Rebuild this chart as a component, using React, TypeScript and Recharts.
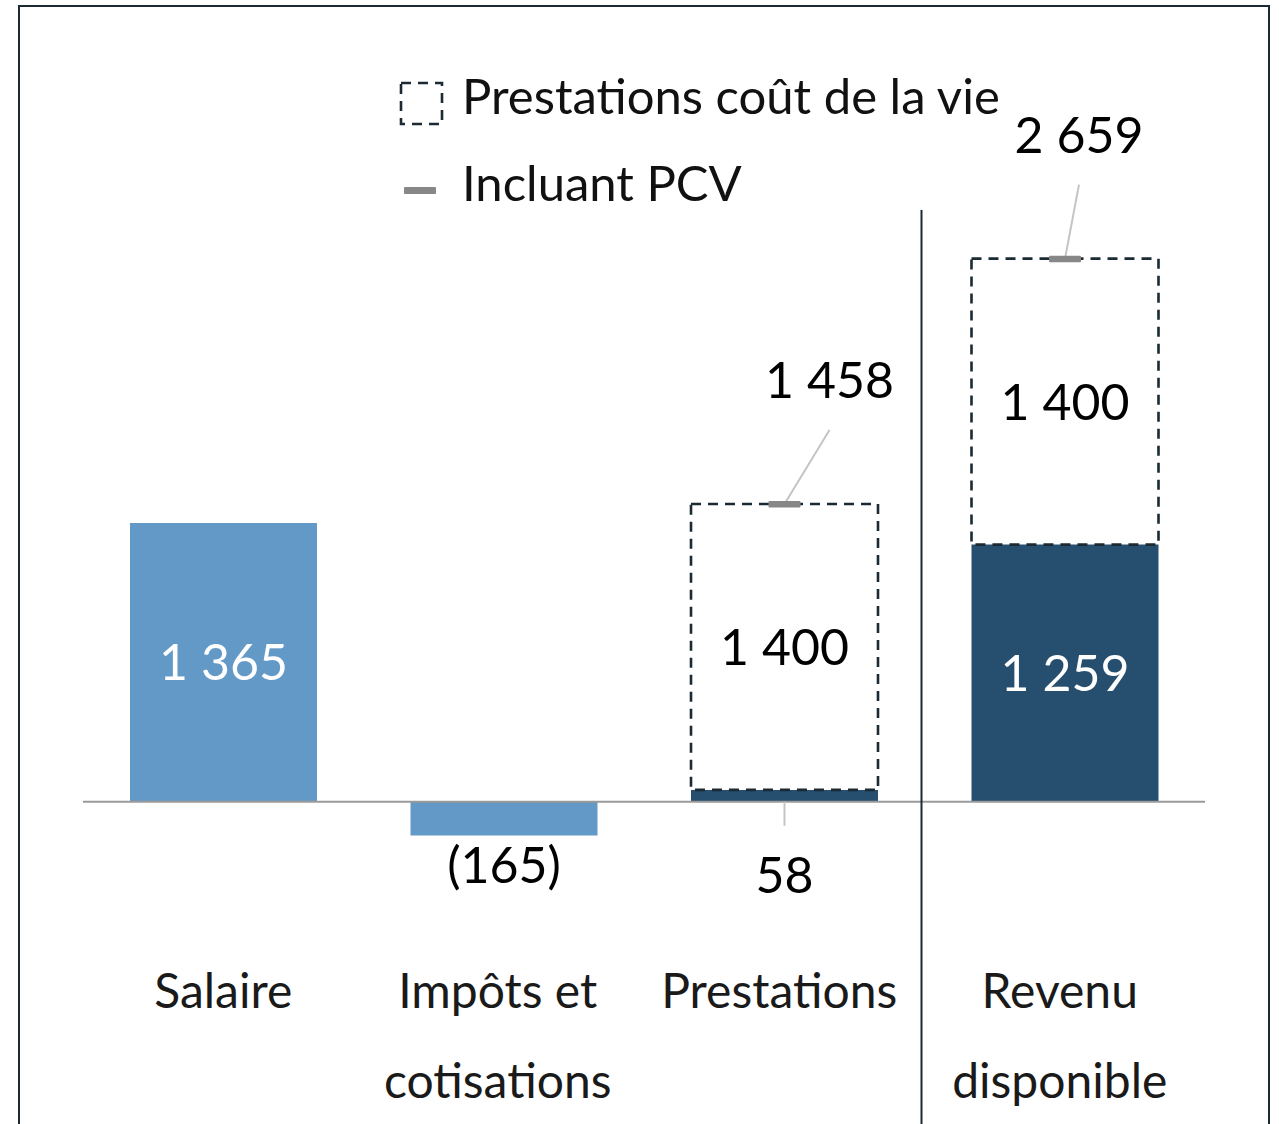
import React from 'react';
import { BarChart, Bar, XAxis, YAxis, Cell, LabelList, ReferenceLine, Legend } from 'recharts';

// values
const categories = ['Salaire', 'Impôts et cotisations', 'Prestations', 'Revenu disponible'];
const categoryLines = [['Salaire'], ['Impôts et', 'cotisations'], ['Prestations'], ['Revenu', 'disponible']];
const baseValues = [1365, -165, 58, 1259];
const pcvValues = [0, 0, 1400, 1400];
const baseColors = ['#6399c7', '#6399c7', '#264e6e', '#264e6e'];

const data = categories.map((name, i) => ({
  name,
  base: baseValues[i],
  pcv: pcvValues[i],
  total: baseValues[i] + pcvValues[i],
}));

const W = 1279;
const H = 1124;
const margin = { top: 189, right: 74, bottom: 8, left: 83 };
const band = (W - margin.left - margin.right) / categories.length;
const FONT = 'Lato, "Noto Sans", sans-serif';
const DARK = '#1b2a33';
const DASH = '10 7';

const fmt = (v: number) => {
  const s = Math.abs(v).toString().replace(/\B(?=(\d{3})+(?!\d))/g, ' ');
  return v < 0 ? `(${s})` : s;
};

// where the total label sits relative to the marker
const totalShift: Record<number, number> = { 2: 45, 3: 14 };
// small horizontal nudge of the category labels
const tickShift = [0, -6, -5, -5];

const BaseLabel = (props: any) => {
  const { x, y, width, height, value, index } = props;
  const cx = x + width / 2;
  const top = Math.min(y, y + height);
  const bottom = Math.max(y, y + height);
  if (index === 1) {
    return (
      <text x={cx} y={bottom + 48} textAnchor="middle" fontSize={50} fontFamily={FONT} fill="#000">
        {fmt(value)}
      </text>
    );
  }
  if (index === 2) {
    return (
      <g>
        <line x1={cx} y1={bottom} x2={cx} y2={bottom + 24} stroke="#c4c4c4" strokeWidth={2} />
        <text x={cx} y={bottom + 91} textAnchor="middle" fontSize={50} fontFamily={FONT} fill="#000">
          {fmt(value)}
        </text>
      </g>
    );
  }
  return (
    <text x={cx} y={(top + bottom) / 2 + 18} textAnchor="middle" fontSize={50} fontFamily={FONT} fill="#fff">
      {fmt(value)}
    </text>
  );
};

const PcvShape = (props: any) => {
  const { x, y, width, height, payload, index } = props;
  if (!payload || !payload.pcv) return null;
  const cx = x + width / 2;
  const dx = totalShift[index] ?? 20;
  return (
    <g>
      <rect x={x} y={y} width={width} height={height} fill="none" stroke={DARK} strokeWidth={2.6} strokeDasharray={DASH} />
      <line x1={cx} y1={y} x2={cx + dx} y2={y - 74} stroke="#c4c4c4" strokeWidth={2} />
      <rect x={cx - 16} y={y - 3} width={32} height={6.5} rx={1} fill="#878787" />
      <text x={cx} y={y + height / 2 + 18} textAnchor="middle" fontSize={50} fontFamily={FONT} fill="#000">
        {fmt(payload.pcv)}
      </text>
      <text x={cx + dx} y={y - 106} textAnchor="middle" fontSize={50} fontFamily={FONT} fill="#000">
        {fmt(payload.total)}
      </text>
    </g>
  );
};

const CategoryTick = (props: any) => {
  const { x, y, index } = props;
  const lines = categoryLines[index] || [];
  const tx = x + (tickShift[index] ?? 0);
  return (
    <g>
      {index === 3 && <line x1={x - band / 2 - 3} y1={210} x2={x - band / 2 - 3} y2={H} stroke={DARK} strokeWidth={2} />}
      {lines.map((l, i) => (
        <text key={i} x={tx} y={y - 6 + i * 90} textAnchor="middle" fontSize={48} fontFamily={FONT} fill="#1a1a1a">
          {l}
        </text>
      ))}
    </g>
  );
};

const LegendContent = () => (
  <div style={{ fontFamily: FONT, fontSize: 49, color: '#111' }}>
    <div style={{ position: 'relative', height: 88 }}>
      <svg width={48} height={48} style={{ position: 'absolute', left: 0, top: 31 }}>
        <rect x={2} y={2} width={41} height={41} fill="none" stroke={DARK} strokeWidth={2.6} strokeDasharray={DASH} />
      </svg>
      <span style={{ position: 'absolute', left: 63, top: 15, lineHeight: '60px', whiteSpace: 'nowrap' }}>
        Prestations coût de la vie
      </span>
    </div>
    <div style={{ position: 'relative', height: 88 }}>
      <svg width={48} height={48} style={{ position: 'absolute', left: 0, top: 37 }}>
        <rect x={5} y={12} width={32} height={7} rx={1} fill="#878787" />
      </svg>
      <span style={{ position: 'absolute', left: 63, top: 14, lineHeight: '60px', whiteSpace: 'nowrap' }}>
        Incluant PCV
      </span>
    </div>
  </div>
);

export default function App() {
  return (
    <div style={{ position: 'absolute', left: 0, top: 0, width: W, height: H, overflow: 'hidden', background: '#fff' }}>
      <div
        style={{
          position: 'absolute',
          left: 18,
          top: 5,
          width: 1252,
          height: 1140,
          border: `2.5px solid ${DARK}`,
          boxSizing: 'border-box',
        }}
      />
      <div style={{ position: 'absolute', left: 0, top: 0 }}>
        <BarChart width={W} height={H} data={data} margin={margin} barSize={187}>
          <XAxis dataKey="name" axisLine={false} tickLine={false} height={110} tick={<CategoryTick />} interval={0} />
          <YAxis hide domain={[-1000, 3000]} />
          <Legend
            layout="vertical"
            align="center"
            verticalAlign="middle"
            content={<LegendContent />}
            wrapperStyle={{ position: 'absolute', left: 399, top: 50, width: 700 }}
          />
          <Bar dataKey="base" stackId="a" isAnimationActive={false}>
            {data.map((d, i) => (
              <Cell key={d.name} fill={baseColors[i]} />
            ))}
            <LabelList dataKey="base" content={<BaseLabel />} />
          </Bar>
          <Bar dataKey="pcv" stackId="a" isAnimationActive={false} shape={<PcvShape />} />
          <ReferenceLine y={0} stroke="#9a9a9a" strokeWidth={2} />
        </BarChart>
      </div>
    </div>
  );
}
